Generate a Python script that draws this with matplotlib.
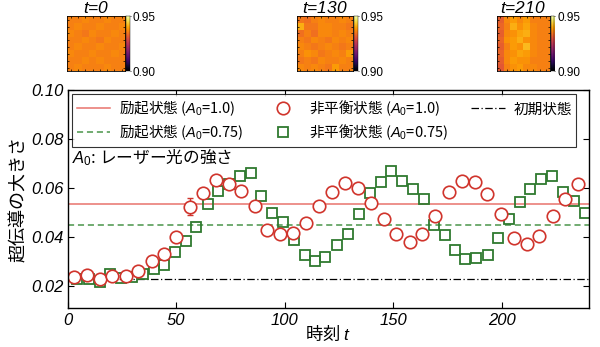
import matplotlib
matplotlib.use("Agg")
import matplotlib.pyplot as plt
import numpy as np

plt.rcParams['font.family'] = ['Noto Sans CJK JP', 'DejaVu Sans']
plt.rcParams['mathtext.fontset'] = 'custom'
plt.rcParams['mathtext.it'] = 'Liberation Sans:italic'
plt.rcParams['mathtext.rm'] = 'Liberation Sans'

# non-equilibrium state, A0 = 1.0 (circles)
t_circ = [2.7, 8.8, 14.7, 20.5, 26.6, 32.5, 38.6, 44.4, 50.0, 56.4,
          62.2, 68.4, 74.2, 80.0, 86.1, 92.0, 97.8, 103.9, 109.8, 115.9,
          121.7, 127.8, 133.7, 139.5, 145.6, 151.4, 157.6, 163.4, 169.2, 175.7,
          181.5, 187.6, 193.4, 199.6, 205.7, 211.5, 217.2, 223.4, 229.3, 235.1]
v_circ = [0.0238, 0.0248, 0.0230, 0.0241, 0.0244, 0.0261, 0.0304, 0.0330, 0.0401, 0.0525,
          0.0580, 0.0634, 0.0618, 0.0590, 0.0528, 0.0429, 0.0413, 0.0416, 0.0459, 0.0528,
          0.0585, 0.0619, 0.0602, 0.0541, 0.0474, 0.0412, 0.0380, 0.0412, 0.0488, 0.0585,
          0.0630, 0.0624, 0.0575, 0.0494, 0.0395, 0.0372, 0.0405, 0.0487, 0.0556, 0.0618]
err_circ = [0, 0, 0, 0, 0, 0, 0, 0, 0, 0.0035,
            0, 0, 0, 0, 0, 0, 0, 0, 0, 0,
            0, 0, 0, 0, 0, 0, 0, 0, 0, 0,
            0, 0, 0, 0, 0, 0, 0, 0, 0, 0]

# non-equilibrium state, A0 = 0.75 (squares)
t_sq = [4.3, 9.7, 14.7, 19.6, 24.6, 29.8, 34.7, 39.6, 44.2, 49.4, 54.5, 59.1,
        64.4, 69.4, 74.2, 79.3, 84.3, 89.2, 94.1, 99.3, 104.3, 109.2, 114.1, 118.4,
        124.0, 129.2, 134.1, 139.2, 144.2, 149.1, 154.1, 159.1, 164.0, 168.8, 173.7, 178.4,
        183.1, 188.2, 193.5, 198.4, 203.3, 208.2, 213.1, 218.2, 223.3, 228.2, 233.4, 238.2]
v_sq = [0.0232, 0.0229, 0.0218, 0.0252, 0.0236, 0.0238, 0.0252, 0.0272, 0.0286, 0.0339, 0.0384, 0.0443,
        0.0536, 0.0590, 0.0618, 0.0648, 0.0661, 0.0568, 0.0498, 0.0462, 0.0388, 0.0326, 0.0302, 0.0320,
        0.0367, 0.0412, 0.0495, 0.0580, 0.0623, 0.0670, 0.0629, 0.0596, 0.0555, 0.0450, 0.0409, 0.0350,
        0.0311, 0.0317, 0.0328, 0.0397, 0.0473, 0.0544, 0.0596, 0.0638, 0.0650, 0.0584, 0.0547, 0.0498]

excited_10 = 0.0534
excited_075 = 0.0450
initial = 0.0232

# snapshots of the order parameter (8x8)
snap_times = [0, 130, 210]
snap_0 = [[0.936, 0.936, 0.937, 0.936, 0.936, 0.937, 0.936, 0.936],
          [0.936, 0.937, 0.936, 0.936, 0.937, 0.936, 0.936, 0.937],
          [0.937, 0.936, 0.935, 0.937, 0.936, 0.936, 0.937, 0.936],
          [0.936, 0.936, 0.937, 0.936, 0.935, 0.937, 0.936, 0.936],
          [0.936, 0.937, 0.936, 0.936, 0.937, 0.936, 0.936, 0.937],
          [0.937, 0.936, 0.936, 0.937, 0.936, 0.936, 0.937, 0.936],
          [0.936, 0.936, 0.937, 0.936, 0.937, 0.936, 0.936, 0.936],
          [0.936, 0.937, 0.936, 0.936, 0.936, 0.937, 0.936, 0.936]]
snap_130 = [[0.935, 0.934, 0.936, 0.937, 0.936, 0.936, 0.937, 0.936],
            [0.941, 0.935, 0.935, 0.937, 0.937, 0.936, 0.936, 0.935],
            [0.934, 0.936, 0.934, 0.937, 0.937, 0.936, 0.937, 0.936],
            [0.936, 0.935, 0.937, 0.936, 0.935, 0.937, 0.936, 0.937],
            [0.937, 0.936, 0.935, 0.936, 0.937, 0.936, 0.935, 0.936],
            [0.936, 0.938, 0.937, 0.935, 0.936, 0.937, 0.936, 0.939],
            [0.935, 0.936, 0.935, 0.937, 0.936, 0.936, 0.937, 0.936],
            [0.937, 0.936, 0.937, 0.936, 0.935, 0.939, 0.936, 0.936]]
snap_210 = [[0.932, 0.937, 0.939, 0.937, 0.939, 0.936, 0.936, 0.936],
            [0.933, 0.936, 0.941, 0.938, 0.940, 0.937, 0.936, 0.936],
            [0.932, 0.937, 0.938, 0.940, 0.941, 0.937, 0.936, 0.936],
            [0.933, 0.938, 0.939, 0.941, 0.938, 0.937, 0.936, 0.936],
            [0.932, 0.936, 0.939, 0.938, 0.942, 0.937, 0.936, 0.936],
            [0.933, 0.937, 0.938, 0.940, 0.939, 0.937, 0.936, 0.936],
            [0.932, 0.937, 0.939, 0.938, 0.938, 0.936, 0.936, 0.936],
            [0.931, 0.936, 0.938, 0.939, 0.937, 0.937, 0.936, 0.936]]
snapshots = [snap_0, snap_130, snap_210]

red = '#d0342c'
red_line = '#e8736c'
green = '#2f7a2f'
green_line = '#4a954a'
tickfont = {'family': 'Liberation Sans', 'style': 'italic', 'size': 12}

fig = plt.figure(figsize=(6.0, 3.47), dpi=100)
ax = fig.add_axes([0.113, 0.111, 0.868, 0.630])

l1 = ax.axhline(excited_10, color=red_line, lw=1.1)
l2 = ax.axhline(excited_075, color=green_line, lw=1.1, ls=(0, (4, 2.5)))
l3 = ax.axhline(initial, color='black', lw=0.9, ls=(0, (6, 2, 1, 2)))
s2, = ax.plot(t_sq, v_sq, ls='none', marker='s', ms=7, mfc='none', mec=green, mew=1.3)
ax.errorbar(t_circ, v_circ, yerr=err_circ, fmt='none', ecolor=red, elinewidth=1, capsize=2)
s1, = ax.plot(t_circ, v_circ, ls='none', marker='o', ms=9, mfc='white', mec=red, mew=1.2)

A = r'$\mathit{A_0}$'
leg = ax.legend([l1, l2, s1, s2, l3],
                ['励起状態 (' + A + '=1.0)', '励起状態 (' + A + '=0.75)',
                 '非平衡状態 (' + A + '=1.0)', '非平衡状態 (' + A + '=0.75)', '初期状態'],
                ncol=3, loc='upper left', fontsize=10.5, frameon=True, fancybox=False,
                edgecolor='black', handlelength=2.3, handletextpad=0.6, columnspacing=1.6,
                borderpad=0.3, labelspacing=0.3, borderaxespad=0.3)
leg.get_frame().set_linewidth(0.8)

ax.text(0.008, 0.69, A + ': レーザー光の強さ', transform=ax.transAxes, fontsize=12,
        va='center', ha='left')

ax.set_xlim(0, 240)
ax.set_ylim(0.011, 0.10)
ax.set_xticks([0, 50, 100, 150, 200])
ax.set_yticks([0.02, 0.04, 0.06, 0.08, 0.10])
ax.set_xticklabels(['0', '50', '100', '150', '200'], fontdict=tickfont)
ax.set_yticklabels(['0.02', '0.04', '0.06', '0.08', '0.10'], fontdict=tickfont)
ax.tick_params(direction='in', top=True, right=True, length=4, width=0.8, pad=3)
for sp in ax.spines.values():
    sp.set_linewidth(1.0)
ax.set_xlabel('時刻 $\\mathit{t}$', fontsize=12.5, labelpad=-2)
ax.set_ylabel('超伝導の大きさ', fontsize=13, labelpad=2)

# snapshot insets
inset_x = [0.112, 0.495, 0.828]
inset_w = [0.0967, 0.093, 0.088]
for x0, w, tt, snap in zip(inset_x, inset_w, snap_times, snapshots):
    iax = fig.add_axes([x0, 0.795, w, 0.158])
    iax.imshow(np.array(snap), cmap='inferno', vmin=0.90, vmax=0.95,
               aspect='auto', interpolation='nearest')
    iax.tick_params(direction='in', length=1.5, width=0.5, labelbottom=False, labelleft=False,
                    top=True, right=True)
    iax.set_xticks(np.arange(0, 8))
    iax.set_yticks(np.arange(0, 8))
    for sp in iax.spines.values():
        sp.set_linewidth(0.6)
    iax.set_title('$\\mathit{t}$=' + str(tt), fontsize=12.5, style='italic',
                  family='Liberation Sans', pad=2)
    cax = fig.add_axes([x0 + w + 0.002, 0.795, 0.006, 0.158])
    grad = np.linspace(0.90, 0.95, 100).reshape(-1, 1)
    cax.imshow(grad, cmap='inferno', vmin=0.90, vmax=0.95, aspect='auto', origin='lower',
               extent=[0, 1, 0.90, 0.95])
    cax.set_xticks([])
    cax.yaxis.tick_right()
    cax.set_yticks([0.90, 0.95])
    cax.set_yticklabels(['0.90', '0.95'], family='Liberation Sans', fontsize=8.5)
    cax.tick_params(length=1, width=0.5, pad=1)
    for sp in cax.spines.values():
        sp.set_linewidth(0.3)

fig.savefig('out.png', dpi=100)
